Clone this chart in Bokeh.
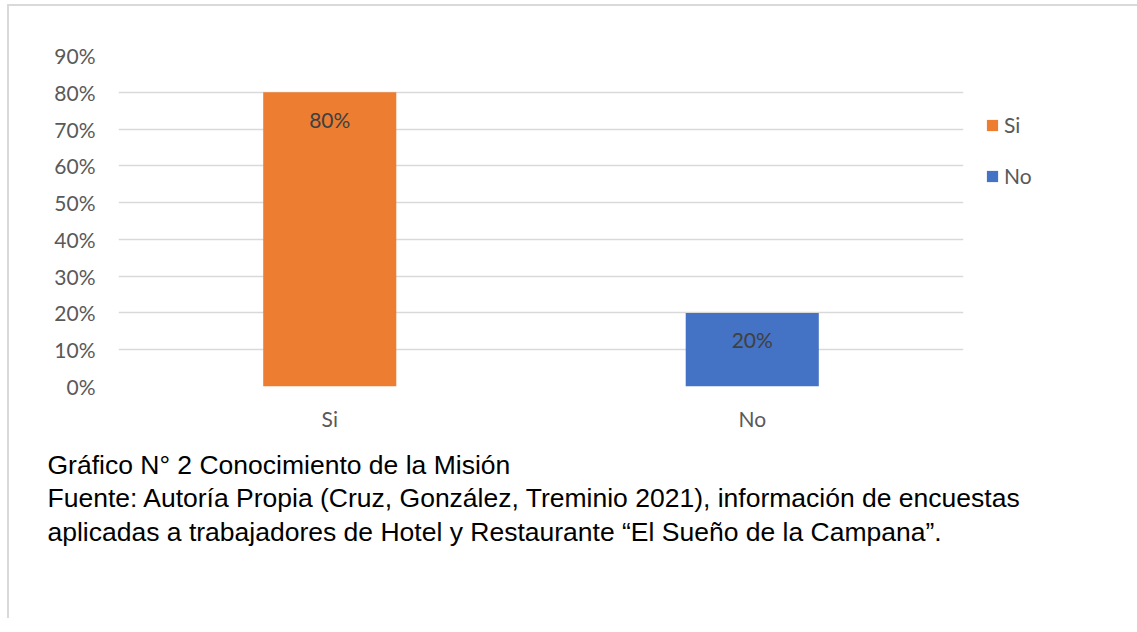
from bokeh.plotting import figure
from bokeh.models import (ColumnDataSource, FactorRange, Range1d, NumeralTickFormatter,
                          FixedTicker, LabelSet, Legend, LegendItem, Title)
from bokeh.core.properties import value
from bokeh.embed import file_html
from bokeh.resources import INLINE

categories = ["Si", "No"]
values = [0.80, 0.20]
value_labels = ["80%", "20%"]
colors = ["#ED7D31", "#4472C4"]
y_ticks = [0.0, 0.1, 0.2, 0.3, 0.4, 0.5, 0.6, 0.7, 0.8, 0.9]
caption_lines = [
    "Gráfico N° 2 Conocimiento de la Misión",
    "Fuente: Autoría Propia (Cruz, González, Treminio 2021), información de encuestas",
    "aplicadas a trabajadores de Hotel y Restaurante “El Sueño de la Campana”.",
]

FONT = "Lato"

source = ColumnDataSource(dict(cat=categories, val=values, lab=value_labels, color=colors))

p = figure(x_range=FactorRange(*categories, range_padding=0),
           y_range=Range1d(0, 0.9),
           frame_width=845, frame_height=331,
           output_backend="svg", toolbar_location=None,
           min_border_left=109, min_border_right=160,
           min_border_top=49, min_border_bottom=232)
p.styles = {"border-top": "2px solid #d9d9d9", "border-left": "2px solid #d9d9d9",
            "margin-left": "7px", "margin-top": "4px"}
p.outline_line_color = None
p.background_fill_color = "white"
p.border_fill_color = "white"

r = p.vbar(x="cat", top="val", width=0.315, color="color", line_color=None, source=source)

# axes
p.yaxis.ticker = FixedTicker(ticks=y_ticks)
p.yaxis.formatter = NumeralTickFormatter(format="0%")
for ax in (p.xaxis[0], p.yaxis[0]):
    ax.axis_line_color = None
    ax.major_tick_line_color = None
    ax.minor_tick_line_color = None
    ax.major_tick_out = 0
    ax.major_tick_in = 0
    ax.major_label_text_font = FONT
    ax.major_label_text_font_size = "21px"
    ax.major_label_text_color = "#595959"
p.yaxis.major_label_standoff = 23
p.xaxis.major_label_standoff = 19

p.xgrid.grid_line_color = None
p.ygrid.grid_line_color = "#d9d9d9"
p.ygrid.grid_line_width = 1.5
p.ygrid.ticker = FixedTicker(ticks=y_ticks)

labels = LabelSet(x="cat", y="val", text="lab", source=source, y_offset=-27,
                  text_align="center", text_baseline="middle",
                  text_font=value(FONT), text_font_size="21px", text_color="#404040")
p.add_layout(labels)

legend = Legend(items=[LegendItem(label=categories[i], renderers=[r], index=i) for i in range(2)],
                location=(22, 198), padding=0, margin=0, spacing=26,
                glyph_width=14, glyph_height=14, label_standoff=5,
                label_text_font=FONT, label_text_font_size="21px", label_text_color="#595959",
                border_line_color=None, background_fill_alpha=0)
p.add_layout(legend, "right")

for line, so in zip(caption_lines, [29, -27, 30]):
    p.add_layout(Title(text=line, align="left", offset=-71, standoff=so,
                       text_font="Liberation Sans", text_font_size="26.5px",
                       text_font_style="normal", text_color="#000000"), "below")

open("out.html", "w").write(file_html(p, INLINE))
